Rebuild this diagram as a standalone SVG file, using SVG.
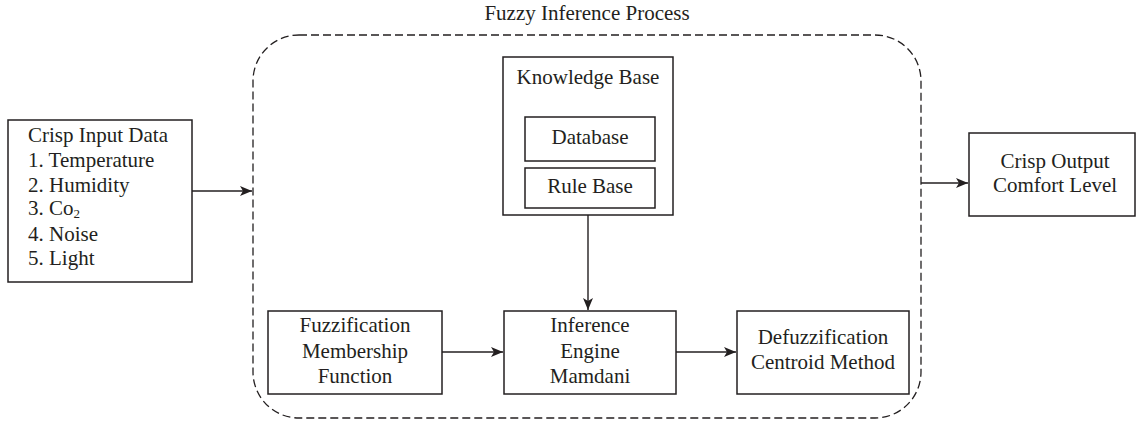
<svg xmlns="http://www.w3.org/2000/svg" width="1136" height="423" viewBox="0 0 1136 423">
  <style>
    .box { fill: #fff; stroke: #231f20; stroke-width: 1.5; }
    .t { font-family: "Liberation Serif", "DejaVu Serif", serif; font-size: 21px; fill: #231f20; }
    .c { text-anchor: middle; }
    .link { stroke: #231f20; stroke-width: 1.4; fill: none; marker-end: url(#arrow); }
    .frame { fill: none; stroke: #231f20; stroke-width: 1.3; stroke-dasharray: 8 4; }
  </style>
  <defs>
    <marker id="arrow" viewBox="0 0 12 10" refX="12" refY="5" markerWidth="12" markerHeight="10" markerUnits="userSpaceOnUse" orient="auto">
      <path d="M0,0 L12,5 L0,10 L3,5 Z" fill="#231f20"/>
    </marker>
  </defs>
  <rect width="1136" height="423" fill="#fff"/>

  <!-- dashed enclosure of the inference stage -->
  <g id="fuzzy-inference-process">
    <rect class="frame" x="253" y="35" width="668" height="383" rx="46" ry="46"/>
    <text class="t c" x="587" y="20">Fuzzy Inference Process</text>
  </g>

  <g id="crisp-input">
    <rect class="box" x="8" y="120" width="184" height="162"/>
    <text class="t" x="28" y="142">Crisp Input Data</text>
    <text class="t" x="28" y="167">1. Temperature</text>
    <text class="t" x="28" y="192">2. Humidity</text>
    <text class="t" x="28" y="215">3. Co<tspan font-size="13" dy="3">2</tspan></text>
    <text class="t" x="28" y="241">4. Noise</text>
    <text class="t" x="28" y="265">5. Light</text>
  </g>

  <g id="knowledge-base">
    <rect class="box" x="503" y="57" width="170" height="158"/>
    <text class="t c" x="588" y="84">Knowledge Base</text>
  </g>
  <g id="database">
    <rect class="box" x="525" y="117" width="130" height="44"/>
    <text class="t c" x="590" y="144">Database</text>
  </g>
  <g id="rule-base">
    <rect class="box" x="525" y="168" width="130" height="40"/>
    <text class="t c" x="590" y="193">Rule Base</text>
  </g>

  <g id="fuzzification">
    <rect class="box" x="268" y="311" width="174" height="83"/>
    <text class="t c" x="355" y="332">Fuzzification</text>
    <text class="t c" x="355" y="358">Membership</text>
    <text class="t c" x="355" y="383">Function</text>
  </g>

  <g id="inference-engine">
    <rect class="box" x="504" y="311" width="172" height="83"/>
    <text class="t c" x="590" y="332">Inference</text>
    <text class="t c" x="590" y="358">Engine</text>
    <text class="t c" x="590" y="383">Mamdani</text>
  </g>

  <g id="defuzzification">
    <rect class="box" x="737" y="311" width="172" height="83"/>
    <text class="t c" x="823" y="344">Defuzzification</text>
    <text class="t c" x="823" y="369">Centroid Method</text>
  </g>

  <g id="crisp-output">
    <rect class="box" x="969" y="133" width="166" height="83"/>
    <text class="t c" x="1055" y="168">Crisp Output</text>
    <text class="t c" x="1055" y="192">Comfort Level</text>
  </g>

  <g id="connectors">
    <line class="link" x1="192" y1="191" x2="252" y2="191"/>
    <line class="link" x1="921" y1="183" x2="968" y2="183"/>
    <line class="link" x1="588" y1="215" x2="588" y2="310"/>
    <line class="link" x1="442" y1="352" x2="503" y2="352"/>
    <line class="link" x1="676" y1="352" x2="736" y2="352"/>
  </g>
</svg>
